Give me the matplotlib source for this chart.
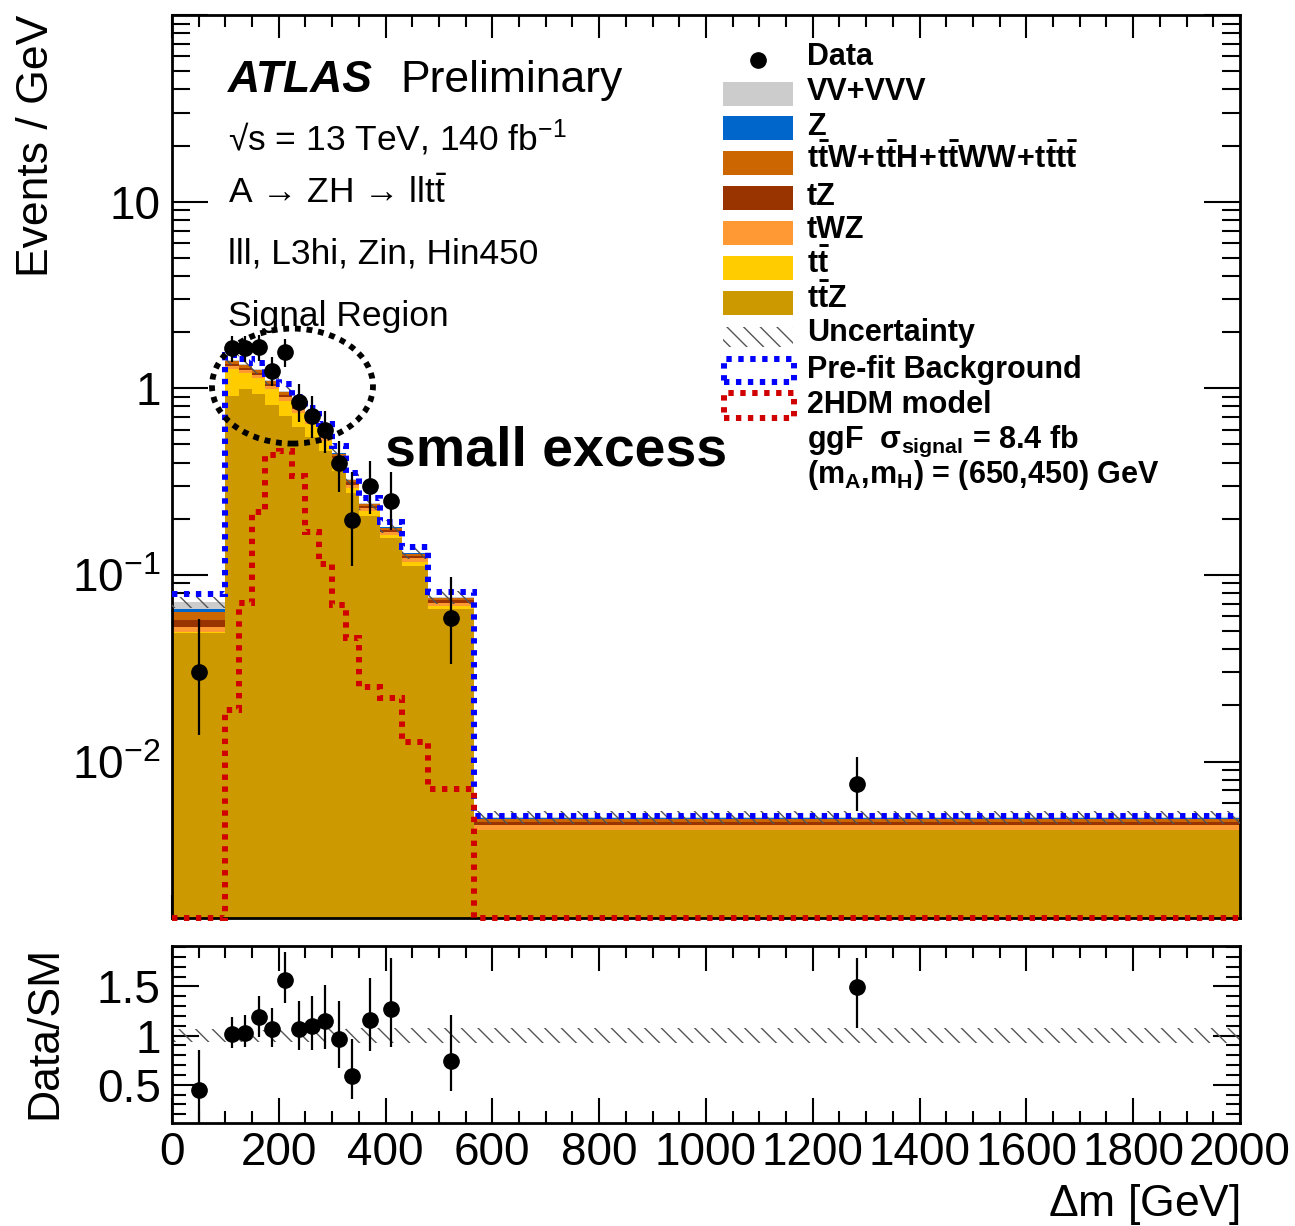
import numpy as np
import matplotlib
matplotlib.use("Agg")
import matplotlib.pyplot as plt
from matplotlib.patches import Rectangle, Ellipse
from matplotlib.ticker import FixedLocator, FixedFormatter, MultipleLocator, NullFormatter

plt.rcParams["font.family"] = ["Liberation Sans", "DejaVu Sans"]
plt.rcParams["mathtext.fontset"] = "custom"
plt.rcParams["mathtext.rm"] = "Liberation Sans"
plt.rcParams["mathtext.it"] = "Liberation Sans:italic"
plt.rcParams["mathtext.bf"] = "Liberation Sans:bold"
plt.rcParams["hatch.linewidth"] = 1.0

# binning in Delta m [GeV]
edges = [0, 100, 125, 150, 175, 200, 225, 250, 275, 300, 325, 350, 390, 430, 480, 565, 2000]

# post-fit background components (Events / GeV), stacked bottom -> top
ttz = [0.049, 0.91, 0.99, 0.93, 0.81, 0.71, 0.62, 0.55, 0.46, 0.36, 0.275, 0.207, 0.158, 0.112, 0.066, 0.0043]
tt = [0.0005, 0.36, 0.22, 0.20, 0.18, 0.15, 0.12, 0.09, 0.065, 0.045, 0.018, 0.012, 0.006, 0.006, 0.002, 0.00002]
twz = [0.0032, 0.045, 0.045, 0.045, 0.040, 0.035, 0.030, 0.026, 0.022, 0.017, 0.012, 0.008, 0.006, 0.005, 0.003, 0.00024]
tz = [0.0045, 0.035, 0.035, 0.035, 0.030, 0.028, 0.025, 0.020, 0.017, 0.013, 0.010, 0.007, 0.005, 0.004, 0.002, 0.0002]
ttw = [0.0061, 0.045, 0.040, 0.040, 0.037, 0.033, 0.028, 0.022, 0.018, 0.012, 0.008, 0.006, 0.0045, 0.003, 0.002, 0.00015]
zjets = [0.0022, 0.005, 0.005, 0.004, 0.004, 0.003, 0.003, 0.002, 0.002, 0.0015, 0.001, 0.0008, 0.0006, 0.0005, 0.0003, 0.00005]
vv = [0.0057, 0.015, 0.012, 0.012, 0.010, 0.008, 0.007, 0.006, 0.005, 0.004, 0.003, 0.002, 0.0015, 0.0012, 0.0008, 0.00008]
unc_rel = [0.07, 0.06, 0.06, 0.06, 0.06, 0.06, 0.07, 0.07, 0.07, 0.07, 0.08, 0.08, 0.08, 0.08, 0.08, 0.08]

prefit = [0.079, 1.50, 1.44, 1.36, 1.20, 1.05, 0.90, 0.78, 0.64, 0.49, 0.35, 0.257, 0.191, 0.141, 0.081, 0.0051]
signal = [0.0, 0.019, 0.071, 0.217, 0.44, 0.46, 0.34, 0.17, 0.115, 0.069, 0.046, 0.025, 0.022, 0.0127, 0.0071, 0.0]

# data (Events / GeV) with error bar ends; nan = empty bin
data_val = [0.030, 1.64, 1.64, 1.66, 1.245, 1.56, 0.84, 0.71, 0.60, 0.40, 0.198, 0.30, 0.25, np.nan, 0.059, 0.0076]
data_lo = [0.0138, 1.38, 1.38, 1.40, 1.03, 1.30, 0.66, 0.54, 0.45, 0.277, 0.112, 0.212, 0.173, np.nan, 0.0334, 0.0054]
data_hi = [0.058, 1.91, 1.91, 1.93, 1.47, 1.84, 1.05, 0.91, 0.76, 0.525, 0.355, 0.41, 0.355, np.nan, 0.097, 0.0106]

ratio_val = [0.45, 1.015, 1.03, 1.19, 1.07, 1.57, 1.07, 1.10, 1.15, 0.965, 0.59, 1.16, 1.27, np.nan, 0.74, 1.49]
ratio_lo = [0.12, 0.87, 0.88, 0.99, 0.88, 1.33, 0.855, 0.85, 0.86, 0.675, 0.354, 0.84, 0.88, np.nan, 0.44, 1.08]
ratio_hi = [0.855, 1.19, 1.21, 1.40, 1.28, 1.855, 1.35, 1.405, 1.51, 1.354, 0.965, 1.585, 1.79, np.nan, 1.21, 1.79]

components = [
    ("ttZ", ttz, "#CC9900", r"$\mathbf{t\bar{t}Z}$"),
    ("tt", tt, "#FFCC00", r"$\mathbf{t\bar{t}}$"),
    ("tWZ", twz, "#FF9933", "tWZ"),
    ("tZ", tz, "#993300", "tZ"),
    ("ttW", ttw, "#CC6600", r"$\mathbf{t\bar{t}W\!+\!t\bar{t}H\!+\!t\bar{t}WW\!+\!t\bar{t}t\bar{t}}$"),
    ("Z", zjets, "#0066CC", "Z"),
    ("VV", vv, "#CCCCCC", "VV+VVV"),
]

YMIN, YMAX = 1.45e-3, 100.0
HATCH = "\\\\"
edges = np.asarray(edges, dtype=float)
centers = 0.5 * (edges[:-1] + edges[1:])

fig = plt.figure(figsize=(12.95, 12.26), dpi=100)
ax = fig.add_axes([0.1328, 0.2512, 0.8247, 0.7365])
ax2 = fig.add_axes([0.1328, 0.0843, 0.8247, 0.1444])

# stacked background
base = np.full(len(centers), 1e-6)
for name, vals, col, _ in components:
    top = base + np.asarray(vals)
    ax.stairs(top, edges, baseline=base, fill=True, color=col, lw=0, zorder=2)
    base = top
total = base
unc = total * np.asarray(unc_rel)
ax.stairs(total + unc, edges, baseline=total - unc, fill=True, facecolor="none",
          edgecolor="#555555", hatch=HATCH, lw=0, zorder=3)

dotted = (0, (0.9, 1.1))
ax.stairs(prefit, edges, baseline=None, color="#0000FF", lw=4.3, ls=dotted, zorder=4)
ax.stairs(np.clip(signal, YMIN, None), edges, baseline=None, color="#D00000", lw=4.3, ls=dotted,
          zorder=4, clip_on=False)

dv = np.asarray(data_val)
ax.errorbar(centers, dv, yerr=[dv - np.asarray(data_lo), np.asarray(data_hi) - dv], fmt="o",
            color="k", ms=11, elinewidth=1.6, capsize=0, zorder=6)

ax.set_yscale("log")
ax.set_xlim(0, 2000)
ax.set_ylim(YMIN, YMAX)
ax.yaxis.set_major_locator(FixedLocator([0.01, 0.1, 1, 10, 100]))
ax.yaxis.set_major_formatter(FixedFormatter([r"$10^{-2}$", r"$10^{-1}$", "1", "10", ""]))
ax.yaxis.set_minor_formatter(NullFormatter())
ax.xaxis.set_major_locator(MultipleLocator(200))
ax.xaxis.set_minor_locator(MultipleLocator(50))
ax.tick_params(which="both", direction="in", top=True, right=True, width=1.5, labelsize=33)
ax.tick_params(axis="y", which="major", length=26, pad=8)
ax.tick_params(axis="y", which="minor", length=13)
ax.tick_params(axis="x", which="major", length=16.5)
ax.tick_params(axis="x", which="minor", length=8.6)
ax.tick_params(labelbottom=False)
for sp in ax.spines.values():
    sp.set_linewidth(2)
ax.set_ylabel("Events / GeV", fontsize=32, loc="top")
ax.yaxis.set_label_coords(-0.108, 1.0)

# ratio panel
band_lo = 1 - np.asarray(unc_rel)
band_hi = 1 + np.asarray(unc_rel)
ax2.stairs(band_hi, edges, baseline=band_lo, fill=True, facecolor="none",
           edgecolor="#555555", hatch=HATCH, lw=0, zorder=2)
rv = np.asarray(ratio_val)
ax2.errorbar(centers, rv, yerr=[rv - np.asarray(ratio_lo), np.asarray(ratio_hi) - rv], fmt="o",
             color="k", ms=11, elinewidth=1.6, capsize=0, zorder=5)
ax2.set_xlim(0, 2000)
ax2.set_ylim(0.115, 1.915)
ax2.yaxis.set_major_locator(FixedLocator([0.5, 1.0, 1.5]))
ax2.yaxis.set_major_formatter(FixedFormatter(["0.5", "1", "1.5"]))
ax2.yaxis.set_minor_locator(MultipleLocator(0.1))
ax2.xaxis.set_major_locator(MultipleLocator(200))
ax2.xaxis.set_minor_locator(MultipleLocator(50))
ax2.tick_params(which="both", direction="in", top=True, right=True, width=1.5, labelsize=33)
ax2.tick_params(axis="y", which="major", length=19.5, pad=8)
ax2.tick_params(axis="y", which="minor", length=10)
ax2.tick_params(axis="x", which="major", length=18, pad=6)
ax2.tick_params(axis="x", which="minor", length=8.6)
for sp in ax2.spines.values():
    sp.set_linewidth(2)
ax2.set_ylabel("Data/SM", fontsize=32, loc="top")
ax2.yaxis.set_label_coords(-0.100, 1.0)
ax2.set_xlabel(r"$\Delta$m [GeV]", fontsize=32, loc="right")
ax2.xaxis.set_label_coords(1.0, -0.335)


def axx(px):
    return (px - 172) / 1068.0


def axy(py):
    return (918 - py) / 903.0


# ATLAS label block
ax.text(axx(228), axy(92), "ATLAS", transform=ax.transAxes, fontsize=32, fontweight="bold",
        fontstyle="italic")
ax.text(axx(400), axy(92), "Preliminary", transform=ax.transAxes, fontsize=32)
info = [
    (150, "√s = 13 TeV, 140 fb$^{-1}$"),
    (203, r"A → ZH → llt$\bar{\mathrm{t}}$"),
    (263, "lll, L3hi, Zin, Hin450"),
    (326, "Signal Region"),
]
for py, s in info:
    ax.text(axx(228), axy(py), s, transform=ax.transAxes, fontsize=25.5, va="baseline")

# annotation
ax.add_patch(Ellipse((axx(292.5), axy(386)), 161 / 1068.0, 115 / 903.0, transform=ax.transAxes,
                     fill=False, edgecolor="k", lw=4.2, ls=(0, (1, 1)), zorder=8))
ax.text(axx(385), axy(465), "small excess", transform=ax.transAxes, fontsize=40,
        fontweight="bold", va="baseline", zorder=8)

# legend
lg_fs = 22
bx0, bx1 = axx(723), axx(793)
bh = 24 / 903.0
ax.plot([axx(758)], [axy(60)], "o", color="k", ms=11, transform=ax.transAxes, clip_on=False, zorder=9)
ax.text(axx(807), axy(65), "Data", transform=ax.transAxes, fontsize=lg_fs, fontweight="bold")
box_rows = [94, 128, 163, 198, 233, 268, 303]
text_rows = [100, 135, 168, 205, 238, 273, 308]
for (name, vals, col, lab), yc, yt in zip(components[::-1], box_rows, text_rows):
    ax.add_patch(Rectangle((bx0, axy(yc) - bh / 2), bx1 - bx0, bh, transform=ax.transAxes,
                           facecolor=col, edgecolor="none", zorder=9))
    ax.text(axx(807), axy(yt), lab, transform=ax.transAxes, fontsize=lg_fs, fontweight="bold")
ax.add_patch(Rectangle((bx0, axy(347)), bx1 - bx0, 20 / 903.0, transform=ax.transAxes,
                       facecolor="none", edgecolor="#555555", hatch=HATCH, lw=0, zorder=9))
ax.text(axx(807), axy(341), "Uncertainty", transform=ax.transAxes, fontsize=lg_fs, fontweight="bold")
ax.add_patch(Rectangle((axx(724), axy(382)), axx(794) - axx(724), 23 / 903.0, transform=ax.transAxes,
                       fill=False, edgecolor="#0000FF", lw=4.3, ls=dotted, zorder=9))
ax.text(axx(807), axy(378), "Pre-fit Background", transform=ax.transAxes, fontsize=lg_fs,
        fontweight="bold")
ax.add_patch(Rectangle((axx(724), axy(418)), axx(794) - axx(724), 25 / 903.0, transform=ax.transAxes,
                       fill=False, edgecolor="#D00000", lw=4.3, ls=dotted, zorder=9))
ax.text(axx(807), axy(413), "2HDM model", transform=ax.transAxes, fontsize=lg_fs, fontweight="bold")
ax.text(axx(807), axy(448), r"ggF  σ$_{\mathbf{signal}}$ = 8.4 fb", transform=ax.transAxes,
        fontsize=lg_fs, fontweight="bold")
ax.text(axx(807), axy(483), r"(m$_{\mathbf{A}}$,m$_{\mathbf{H}}$) = (650,450) GeV",
        transform=ax.transAxes, fontsize=lg_fs, fontweight="bold")

fig.savefig("out.png", dpi=100)
